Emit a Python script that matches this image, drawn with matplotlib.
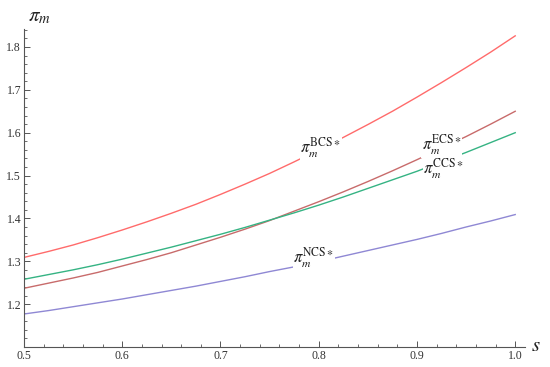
import matplotlib
matplotlib.use('Agg')
import matplotlib.pyplot as plt
from matplotlib.ticker import MultipleLocator

# values
s = [0.5, 0.525, 0.55, 0.575, 0.6, 0.625, 0.65, 0.675, 0.7, 0.725, 0.75,
	0.775, 0.8, 0.825, 0.85, 0.875, 0.9, 0.925, 0.95, 0.975, 1.0]
bcs = [1.309, 1.323, 1.338, 1.355, 1.373, 1.392, 1.412, 1.433, 1.456, 1.480, 1.505,
	1.532, 1.560, 1.589, 1.619, 1.650, 1.683, 1.717, 1.752, 1.788, 1.826]
ecs = [1.237, 1.249, 1.261, 1.274, 1.289, 1.304, 1.320, 1.338, 1.356, 1.375, 1.395,
	1.417, 1.439, 1.462, 1.486, 1.511, 1.537, 1.564, 1.591, 1.620, 1.650]
ccs = [1.258, 1.269, 1.280, 1.292, 1.305, 1.319, 1.333, 1.348, 1.363, 1.379, 1.396,
	1.413, 1.431, 1.450, 1.470, 1.490, 1.510, 1.532, 1.554, 1.577, 1.600]
ncs = [1.177, 1.185, 1.194, 1.203, 1.212, 1.222, 1.232, 1.242, 1.253, 1.264, 1.276,
	1.287, 1.299, 1.312, 1.325, 1.338, 1.351, 1.365, 1.380, 1.394, 1.409]

labels = [r'$\pi_m^{\mathrm{BCS}\ast}$', r'$\pi_m^{\mathrm{ECS}\ast}$',
	r'$\pi_m^{\mathrm{CCS}\ast}$', r'$\pi_m^{\mathrm{NCS}\ast}$']
label_s = [0.802, 0.925, 0.927, 0.795]
label_y = [1.566, 1.572, 1.517, 1.309]
colors = ['#ff6b6b', '#c86b6b', '#35b383', '#8f88d4']

plt.rcParams['mathtext.fontset'] = 'stix'
plt.rcParams['font.family'] = 'Liberation Serif'

fig = plt.figure(figsize=(5.5, 3.67), dpi=100)
ax = fig.add_axes([0.0436, 0.0545, 0.911, 0.8665])

for ys, lab, col, lx, ly in zip([bcs, ecs, ccs, ncs], labels, colors, label_s, label_y):
	ax.plot(s, ys, color=col, lw=1.0)
	# label sits on the curve with a white box cutting the line
	ax.text(lx, ly, lab, fontsize=12, ha='center', va='center', color='#222222',
		bbox=dict(facecolor='white', edgecolor='none', pad=0.5), zorder=5)

ax.set_xlim(0.5, 1.01)
ax.set_ylim(1.1, 1.842)
for side in ['top', 'right']:
	ax.spines[side].set_visible(False)
for side in ['left', 'bottom']:
	ax.spines[side].set_color('#555555')
	ax.spines[side].set_linewidth(0.8)

ax.xaxis.set_minor_locator(MultipleLocator(0.02))
ax.yaxis.set_minor_locator(MultipleLocator(0.02))
ax.set_xticks([0.5, 0.6, 0.7, 0.8, 0.9, 1.0])
ax.set_xticklabels(['0.5', '0.6', '0.7', '0.8', '0.9', '1.0'])
ax.set_yticks([1.2, 1.3, 1.4, 1.5, 1.6, 1.7, 1.8])
ax.set_yticklabels(['1.2', '1.3', '1.4', '1.5', '1.6', '1.7', '1.8'])
ax.tick_params(which='major', direction='in', length=4, width=0.7, color='#555555',
	labelsize=8.5, labelcolor='#333333', pad=2)
ax.tick_params(which='minor', direction='in', length=2, width=0.6, color='#555555')

fig.text(0.051, 0.955, r'$\pi_m$', fontsize=15, ha='left', va='center', color='#222222')
fig.text(0.965, 0.055, r'$s$', fontsize=15, ha='left', va='center', color='#222222')

plt.savefig('out.png', dpi=100)
